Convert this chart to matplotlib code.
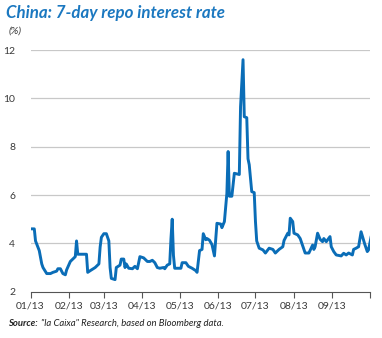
import numpy as np
import pandas as pd
import matplotlib
matplotlib.use('Agg')
import matplotlib.pyplot as plt

# days since 1 Jan 2013 and 7-day repo rate (%)
days = [0, 3, 4, 7, 9, 10, 13, 16, 18, 21, 22, 24, 26, 28, 29, 32, 34, 36, 37, 38,
        40, 45, 46, 48, 52, 55, 56, 57, 59, 61, 63, 64, 65, 68, 69, 72, 73, 75, 76, 77,
        79, 82, 84, 86, 88, 91, 94, 96, 98, 100, 102, 104, 107, 108, 110, 112, 113, 114, 115, 116,
        121, 122, 125, 127, 130, 133, 134, 136, 138, 139, 141, 142, 144, 146, 148, 150, 153, 154, 156, 158,
        159, 160, 162, 164, 168, 169, 171, 172, 174, 175, 176, 178, 180, 181, 182, 184, 187, 189, 192, 195,
        197, 200, 203, 204, 207, 208, 209, 211, 212, 215, 217, 220, 221, 224, 227, 228, 229, 231, 233, 235,
        236, 238, 241, 242, 244, 246, 250, 252, 254, 256, 259, 260, 262, 264, 266, 268, 269, 271, 272, 274]
rate = [4.6, 4.6, 4.1, 3.7, 3.15, 3.0, 2.75, 2.75, 2.8, 2.85, 2.95, 2.95, 2.75, 2.7, 2.9, 3.25, 3.35, 3.45, 4.1, 3.55,
        3.55, 3.55, 2.8, 2.87, 3.0, 3.15, 3.85, 4.25, 4.4, 4.4, 4.1, 3.0, 2.55, 2.5, 3.0, 3.1, 3.35, 3.35, 3.0, 3.15,
        2.97, 2.95, 3.05, 2.95, 3.45, 3.4, 3.25, 3.25, 3.3, 3.2, 3.0, 2.97, 3.0, 2.95, 3.1, 3.15, 4.2, 5.0, 3.5, 2.97,
        2.97, 3.2, 3.2, 3.05, 2.97, 2.87, 2.8, 3.7, 3.75, 4.4, 4.15, 4.2, 4.13, 3.95, 3.48, 4.83, 4.8, 4.65, 4.9, 6.07,
        7.8, 5.95, 5.95, 6.9, 6.85, 9.65, 11.6, 9.24, 9.2, 7.5, 7.25, 6.14, 6.1, 4.9, 4.1, 3.8, 3.73, 3.6, 3.8, 3.75,
        3.6, 3.75, 3.86, 4.12, 4.42, 4.35, 5.04, 4.9, 4.42, 4.35, 4.2, 3.75, 3.6, 3.6, 3.93, 3.75, 3.86, 4.42, 4.17, 4.07,
        4.2, 4.07, 4.28, 3.86, 3.66, 3.52, 3.48, 3.59, 3.52, 3.6, 3.52, 3.75, 3.8, 3.86, 4.48, 4.13, 3.96, 3.66, 3.73, 4.25]
month_labels = ['01/13', '02/13', '03/13', '04/13', '05/13', '06/13', '07/13', '08/13', '09/13']
yticks = [2, 4, 6, 8, 10, 12]

start = pd.Timestamp('2013-01-01')
dates = start + pd.to_timedelta(days, unit='D')
month_starts = pd.date_range('2013-01-01', periods=10, freq='MS')

blue = '#0a6db7'
grey_txt = '#3a3a3a'
plt.rcParams['font.family'] = ['Lato', 'DejaVu Sans']

fig = plt.figure(figsize=(3.82, 3.38), dpi=100)
ax = fig.add_axes([0.080, 0.137, 0.888, 0.715])

ax.plot(dates, rate, color=blue, lw=2.1, solid_joinstyle='round')

ax.set_ylim(2, 12)
ax.set_xlim(month_starts[0], month_starts[-1])
ax.set_yticks(yticks)
ax.set_yticklabels([str(v) for v in yticks], fontsize=7.5, color=grey_txt)
ax.set_xticks(month_starts)
ax.set_xticklabels(month_labels + [''], fontsize=7.5, color=grey_txt)
ax.tick_params(axis='y', length=0, pad=11)
ax.tick_params(axis='x', length=4, width=0.8, color='#555555', direction='out', pad=3)

for v in yticks[1:]:
    ax.axhline(v, color='#c8c8c8', lw=0.9, zorder=0)
for s in ['top', 'right', 'left']:
    ax.spines[s].set_visible(False)
ax.spines['bottom'].set_color('#555555')
ax.spines['bottom'].set_linewidth(0.8)

fig.text(0.015, 0.962, 'China: 7-day repo interest rate', fontsize=12.2, fontweight='bold',
         fontstyle='italic', color='#1b78c0', va='center')
fig.text(0.022, 0.908, '(%)', fontsize=7.5, fontstyle='italic', color=grey_txt, va='center')

src = fig.text(0.022, 0.035, 'Source:', fontsize=6.8, fontweight='bold', fontstyle='italic',
               color='#222222', va='baseline')
ax.annotate('"la Caixa" Research, based on Bloomberg data.', xy=(1, 0), xycoords=src,
            xytext=(2, 0), textcoords='offset points', fontsize=6.8, fontstyle='italic',
            color='#222222', va='bottom', annotation_clip=False)

fig.savefig('out.png', dpi=100)
